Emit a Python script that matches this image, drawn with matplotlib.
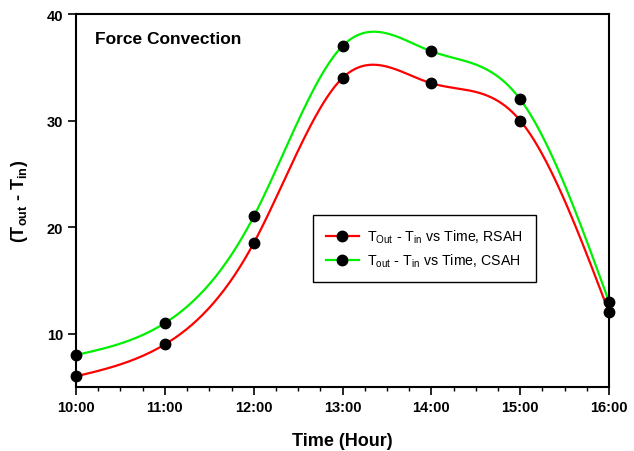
import matplotlib
matplotlib.use("Agg")
import matplotlib.pyplot as plt
import numpy as np

# data
hours = [10, 11, 12, 13, 14, 15, 16]
hour_labels = ["10:00", "11:00", "12:00", "13:00", "14:00", "15:00", "16:00"]
rsah = [6, 9, 18.5, 34, 33.5, 30, 12]
csah = [8, 11, 21, 37, 36.5, 32, 13]

plt.rcParams['font.family'] = ['Liberation Sans', 'DejaVu Sans']
plt.rcParams['mathtext.fontset'] = 'custom'
plt.rcParams['mathtext.rm'] = 'Liberation Sans'
plt.rcParams['mathtext.bf'] = 'Liberation Sans:bold'


def natural_spline(x, y, n=300):
    # natural cubic spline through the points, only used to draw the smooth line
    x = np.asarray(x, float)
    y = np.asarray(y, float)
    k = len(x)
    h = np.diff(x)
    A = np.zeros((k, k))
    b = np.zeros(k)
    A[0, 0] = A[-1, -1] = 1
    for i in range(1, k - 1):
        A[i, i - 1] = h[i - 1]
        A[i, i] = 2 * (h[i - 1] + h[i])
        A[i, i + 1] = h[i]
        b[i] = 6 * ((y[i + 1] - y[i]) / h[i] - (y[i] - y[i - 1]) / h[i - 1])
    M = np.linalg.solve(A, b)
    xs = np.linspace(x[0], x[-1], n)
    idx = np.clip(np.searchsorted(x, xs) - 1, 0, k - 2)
    x0, x1 = x[idx], x[idx + 1]
    hh = x1 - x0
    ys = (M[idx] * (x1 - xs) ** 3 / (6 * hh) + M[idx + 1] * (xs - x0) ** 3 / (6 * hh)
          + (y[idx] / hh - M[idx] * hh / 6) * (x1 - xs)
          + (y[idx + 1] / hh - M[idx + 1] * hh / 6) * (xs - x0))
    return xs, ys


fig = plt.figure(figsize=(6.34, 4.52), dpi=100)
ax = fig.add_axes([0.12, 0.1416, 0.8406, 0.8252])

for vals, col in [(rsah, '#ff0000'), (csah, '#00f000')]:
    xs, ys = natural_spline(hours, vals)
    ax.plot(xs, ys, color=col, lw=1.6, zorder=2)
    ax.plot(hours, vals, 'o', color='black', ms=7.5, zorder=3, clip_on=False)

# legend handles
h1, = ax.plot([], [], '-o', color='#ff0000', mfc='black', mec='black', ms=7.5, lw=1.6)
h2, = ax.plot([], [], '-o', color='#00f000', mfc='black', mec='black', ms=7.5, lw=1.6)
leg = ax.legend([h1, h2],
                [r'T$_{\mathrm{Out}}$ - T$_{\mathrm{in}}$ vs Time, RSAH',
                 r'T$_{\mathrm{out}}$ - T$_{\mathrm{in}}$ vs Time, CSAH'],
                loc='upper left', bbox_to_anchor=(0.445, 0.461), borderaxespad=0,
                fancybox=False, edgecolor='black', framealpha=1, fontsize=10.2,
                handlelength=2.3, handletextpad=0.6, borderpad=0.9, labelspacing=0.45)
leg.get_frame().set_linewidth(1.0)

ax.set_xlim(10, 16)
ax.set_ylim(5, 40)
ax.set_xticks(hours)
ax.set_xticklabels(hour_labels)
ax.set_xticks(np.arange(10, 16.01, 0.25), minor=True)
ax.set_yticks([10, 20, 30, 40])

ax.tick_params(which='major', direction='out', length=6, width=1.2, labelsize=10.5)
ax.tick_params(which='minor', direction='out', length=3, width=1.0)
ax.tick_params(axis='y', which='minor', left=False)
for lab in ax.get_xticklabels() + ax.get_yticklabels():
    lab.set_fontweight('bold')
for s in ax.spines.values():
    s.set_linewidth(1.5)

ax.set_xlabel('Time (Hour)', fontsize=13, fontweight='bold', labelpad=13)
ax.set_ylabel(r'(T$_{\mathbf{out}}$ - T$_{\mathbf{in}}$)', fontsize=13, fontweight='bold', labelpad=12)
ax.text(0.036, 0.955, 'Force Convection', transform=ax.transAxes, fontsize=12.5,
        fontweight='bold', va='top', ha='left')

fig.savefig('out.png', dpi=100)
